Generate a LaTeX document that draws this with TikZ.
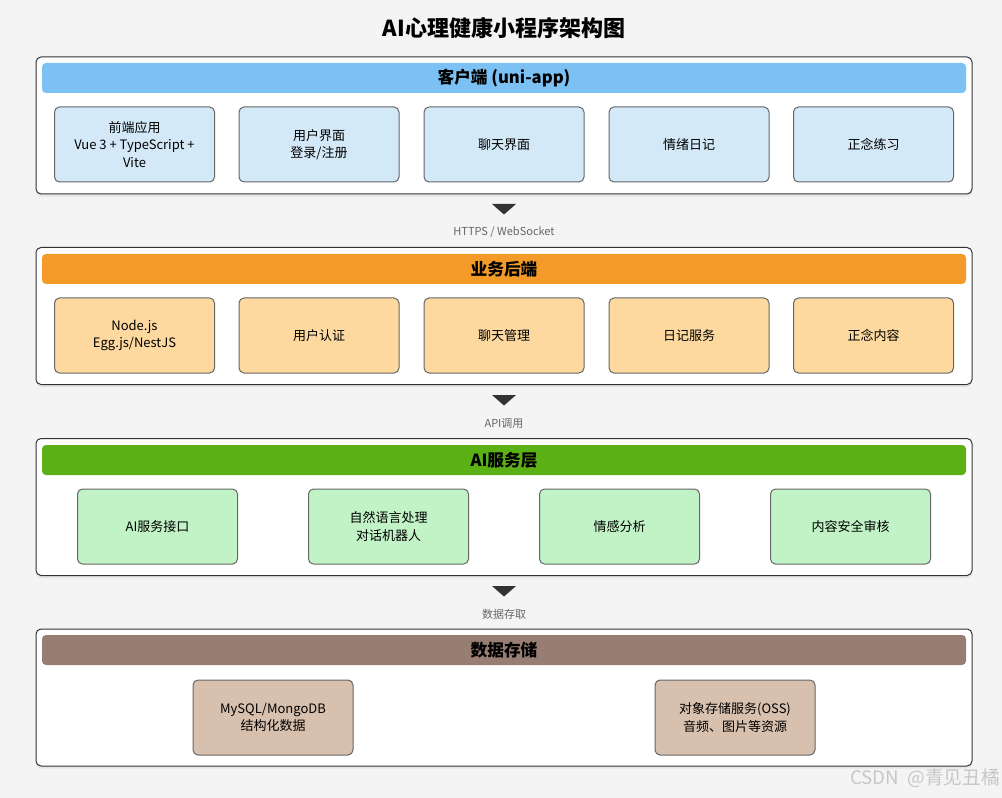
\documentclass[tikz,border=0pt]{standalone}
\usepackage{fontspec}
\setmainfont{Noto Sans CJK SC}
\usetikzlibrary{shadows}
\definecolor{bg}{HTML}{F4F4F4}
\definecolor{hclient}{HTML}{7BC1F4}
\definecolor{iclient}{HTML}{D4E9F8}
\definecolor{hserver}{HTML}{F39A28}
\definecolor{iserver}{HTML}{FDD9A0}
\definecolor{hai}{HTML}{5BB016}
\definecolor{iai}{HTML}{C1F3C6}
\definecolor{hdata}{HTML}{987D73}
\definecolor{idata}{HTML}{D8C0AE}
\definecolor{itemline}{HTML}{666666}
\definecolor{flowtext}{HTML}{666666}
\tikzset{
    layer/.style={rectangle, rounded corners=3.75pt, draw=black!80, fill=white, line width=0.75pt, minimum width=702pt, minimum height=102.75pt, drop shadow={opacity=0.12, shadow xshift=0pt, shadow yshift=-2pt}},
    header/.style={rectangle, rounded corners=3pt, minimum width=693pt, minimum height=22.5pt, inner sep=0pt, font=\bfseries\fontsize{12.5}{14}\selectfont},
    item/.style={rectangle, rounded corners=3.75pt, draw=itemline, line width=0.75pt, minimum width=120pt, minimum height=56.25pt, inner sep=2pt, align=center, font=\fontsize{9.75}{13}\selectfont},
    flow/.style={fill=black!80},
    flowlabel/.style={text=flowtext, font=\fontsize{8.25}{10}\selectfont},
}
\begin{document}
\begin{tikzpicture}[x=0.75pt, y=-0.75pt]
\fill[bg] (0,0) rectangle (1002,798);
\node[font=\bfseries\fontsize{16.5}{20}\selectfont] (title) at (504,28) {AI心理健康小程序架构图};

% client layer
\node[layer] (l1) at (504,125.5) {};
\node[header, fill=hclient] (h1) at (504,78) {客户端 (uni-app)};
\node[item, fill=iclient] (c1) at (134.5,144.5) {前端应用\\Vue 3 + TypeScript +\\Vite};
\node[item, fill=iclient] (c2) at (319,144.5) {用户界面\\登录/注册};
\node[item, fill=iclient] (c3) at (504,144.5) {聊天界面};
\node[item, fill=iclient] (c4) at (689,144.5) {情绪日记};
\node[item, fill=iclient] (c5) at (873.5,144.5) {正念练习};

\fill[flow] (492,204) -- (516,204) -- (504,214.5) -- cycle;
\node[flowlabel] (f1) at (504,232) {HTTPS / WebSocket};

% server layer
\node[layer] (l2) at (504,316) {};
\node[header, fill=hserver] (h2) at (504,269) {业务后端};
\node[item, fill=iserver] (s1) at (134.5,335.5) {Node.js\\Egg.js/NestJS};
\node[item, fill=iserver] (s2) at (319,335.5) {用户认证};
\node[item, fill=iserver] (s3) at (504,335.5) {聊天管理};
\node[item, fill=iserver] (s4) at (689,335.5) {日记服务};
\node[item, fill=iserver] (s5) at (873.5,335.5) {正念内容};

\fill[flow] (492,395) -- (516,395) -- (504,405.5) -- cycle;
\node[flowlabel] (f2) at (504,423) {API调用};

% ai layer
\node[layer] (l3) at (504,507) {};
\node[header, fill=hai] (h3) at (504,460) {AI服务层};
\node[item, fill=iai] (a1) at (157.5,526.5) {AI服务接口};
\node[item, fill=iai] (a2) at (388.5,526.5) {自然语言处理\\对话机器人};
\node[item, fill=iai] (a3) at (619.5,526.5) {情感分析};
\node[item, fill=iai] (a4) at (850.5,526.5) {内容安全审核};

\fill[flow] (492,586) -- (516,586) -- (504,596.5) -- cycle;
\node[flowlabel] (f3) at (504,614) {数据存取};

% data layer
\node[layer] (l4) at (504,697.5) {};
\node[header, fill=hdata] (h4) at (504,650) {数据存储};
\node[item, fill=idata] (d1) at (273,717.5) {MySQL/MongoDB\\结构化数据};
\node[item, fill=idata] (d2) at (735,717.5) {对象存储服务(OSS)\\音频、图片等资源};

\node[anchor=east, inner sep=0pt, text=black!22, font=\fontsize{14}{16}\selectfont] (mark) at (1000,778) {CSDN\ \ @青见丑橘};
\end{tikzpicture}
\end{document}
